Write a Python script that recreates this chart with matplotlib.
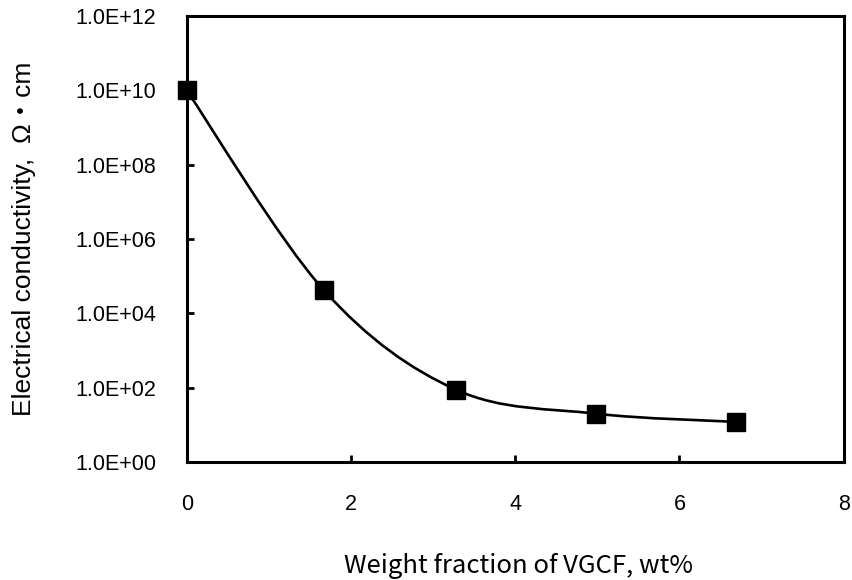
import numpy as np
import matplotlib
matplotlib.use("Agg")
import matplotlib.pyplot as plt
from matplotlib.path import Path
from matplotlib.patches import PathPatch

# VGCF loading (wt%) vs. electrical resistivity (ohm*cm)
vgcf_wt = [0.0, 1.67, 3.28, 4.98, 6.69]
resistivity = [1.0e10, 4.2e4, 88.0, 20.0, 12.0]

x_ticks = [0, 2, 4, 6, 8]
y_ticks = [1e0, 1e2, 1e4, 1e6, 1e8, 1e10, 1e12]
y_tick_labels = ["1.0E+00", "1.0E+02", "1.0E+04", "1.0E+06",
                 "1.0E+08", "1.0E+10", "1.0E+12"]

plt.rcParams["font.family"] = ["Liberation Sans", "Noto Sans CJK JP", "DejaVu Sans"]

W, H = 853, 580
fig = plt.figure(figsize=(W / 100, H / 100), dpi=100)
ax = fig.add_axes([186.7 / W, 1 - 462 / H, (843.7 - 186.7) / W, (462 - 16) / H])
ax.set_yscale("log")
ax.set_xlim(0, 8)
ax.set_ylim(1e0, 1e12)


def smooth_path(xs, ys):
    """Cardinal (Catmull-Rom) Bezier through the points, built in x / log10(y) space."""
    px = np.asarray(xs, float)
    py = np.log10(np.asarray(ys, float))
    n = len(px)
    verts = [(px[0], py[0])]
    codes = [Path.MOVETO]
    for i in range(n - 1):
        p0 = (px[max(i - 1, 0)], py[max(i - 1, 0)])
        p1 = (px[i], py[i])
        p2 = (px[i + 1], py[i + 1])
        p3 = (px[min(i + 2, n - 1)], py[min(i + 2, n - 1)])
        c1 = (p1[0] + (p2[0] - p0[0]) / 6, p1[1] + (p2[1] - p0[1]) / 6)
        c2 = (p2[0] - (p3[0] - p1[0]) / 6, p2[1] - (p3[1] - p1[1]) / 6)
        verts += [c1, c2, p2]
        codes += [Path.CURVE4] * 3
    verts = [(vx, 10 ** vy) for vx, vy in verts]
    return Path(verts, codes)


curve = PathPatch(smooth_path(vgcf_wt, resistivity), facecolor="none",
                  edgecolor="black", lw=1.9, zorder=2, clip_on=False)
ax.add_patch(curve)
ax.plot(vgcf_wt, resistivity, linestyle="none", marker="s", markersize=12.5,
        color="black", zorder=3, clip_on=False)

ax.set_xticks(x_ticks)
ax.set_yticks(y_ticks)
ax.set_yticklabels(y_tick_labels)
ax.yaxis.set_minor_locator(matplotlib.ticker.NullLocator())
ax.tick_params(axis="both", direction="in", length=5, width=2, labelsize=15.5)
ax.tick_params(axis="x", pad=23)
ax.tick_params(axis="y", pad=22)
for s in ax.spines.values():
    s.set_linewidth(2.2)

fig.text(24 / W, 1 - 239 / H, "Electrical conductivity,  Ω・cm", fontsize=19,
         rotation=90, ha="center", va="center")
fig.text(518 / W, 1 - 566 / H, "Weight fraction of VGCF, wt%", fontsize=18.5,
         ha="center", va="center", family=["Noto Sans CJK JP", "DejaVu Sans"])

fig.savefig("out.png", dpi=100)
